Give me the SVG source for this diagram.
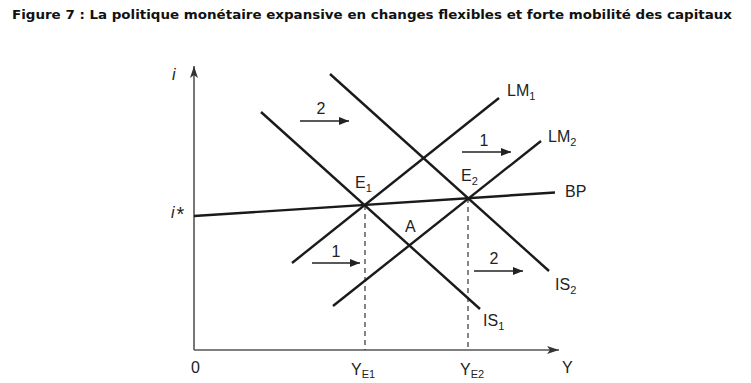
<svg xmlns="http://www.w3.org/2000/svg" width="751" height="383" viewBox="0 0 751 383">
<style>
.t{font-family:"Liberation Sans",Arial,sans-serif;font-size:16px;fill:#222}
.s{font-size:11px}
.c{stroke:#1a1a1a;stroke-width:2.4;fill:none;stroke-linecap:butt}
.ax{stroke:#555;stroke-width:1.6;fill:none}
.sh{stroke:#222;stroke-width:1.3;fill:none}
.d{stroke:#333;stroke-width:1.2;stroke-dasharray:5,4;fill:none}
</style>
<defs>
<marker id="ah" markerWidth="10" markerHeight="8" refX="10" refY="4" orient="auto" markerUnits="userSpaceOnUse">
<path d="M0,0 L10,4 L0,8 z" fill="#222"/>
</marker>
<marker id="axh" markerWidth="12" markerHeight="8" refX="12" refY="4" orient="auto" markerUnits="userSpaceOnUse">
<path d="M0,0 L12,4 L0,8 L3,4 z" fill="#333"/>
</marker>
</defs>
<rect width="751" height="383" fill="#fff"/>
<text x="12" y="19" font-family="'DejaVu Sans',Verdana,sans-serif" font-weight="bold" font-size="12.5" fill="#111" textLength="720" lengthAdjust="spacingAndGlyphs">Figure 7 : La politique monétaire expansive en changes flexibles et forte mobilité des capitaux</text>
<g id="axes">
<path class="ax" d="M194,350 V66" marker-end="url(#axh)"/>
<path class="ax" d="M194,350 H559" marker-end="url(#axh)"/>
<text class="t" x="172" y="80" font-style="italic">i</text>
<text class="t" x="171" y="218"><tspan font-style="italic">i</tspan><tspan dx="2" dy="3" font-size="20">*</tspan></text>
<text class="t" x="191" y="373">0</text>
<text class="t" x="562" y="373">Y</text>
<text class="t" x="351" y="375">Y<tspan class="s" dy="3">E1</tspan></text>
<text class="t" x="460" y="375">Y<tspan class="s" dy="3">E2</tspan></text>
</g>
<g id="connectors">
<path class="d" d="M365,205 V350"/>
<path class="d" d="M468,198 V350"/>
<path class="sh" d="M300,121 H349" marker-end="url(#ah)"/>
<path class="sh" d="M462,152 H511" marker-end="url(#ah)"/>
<path class="sh" d="M312,263 H360" marker-end="url(#ah)"/>
<path class="sh" d="M474,271 H523" marker-end="url(#ah)"/>
<text class="t" x="321" y="114" text-anchor="middle">2</text>
<text class="t" x="484" y="146" text-anchor="middle">1</text>
<text class="t" x="336" y="257" text-anchor="middle">1</text>
<text class="t" x="494" y="264" text-anchor="middle">2</text>
</g>
<g id="BP">
<path class="c" d="M194,216 L555,192.5"/>
<text class="t" x="565" y="197">BP</text>
</g>
<g id="IS1">
<path class="c" d="M261,112 L480,309"/>
<text class="t" x="483" y="326">IS<tspan class="s" dy="4">1</tspan></text>
</g>
<g id="IS2">
<path class="c" d="M330,74 L549,271"/>
<text class="t" x="555" y="290">IS<tspan class="s" dy="4">2</tspan></text>
</g>
<g id="LM1">
<path class="c" d="M292,263 L499,98"/>
<text class="t" x="507" y="96">LM<tspan class="s" dy="4">1</tspan></text>
</g>
<g id="LM2">
<path class="c" d="M333,306 L541,141"/>
<text class="t" x="548" y="142">LM<tspan class="s" dy="4">2</tspan></text>
</g>
<g id="E1">
<text class="t" x="355" y="188">E<tspan class="s" dy="4">1</tspan></text>
</g>
<g id="E2">
<text class="t" x="461" y="181">E<tspan class="s" dy="4">2</tspan></text>
</g>
<g id="A">
<text class="t" x="405" y="232">A</text>
</g>
</svg>
